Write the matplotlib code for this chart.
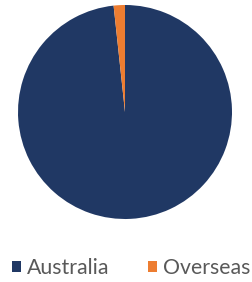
import matplotlib

matplotlib.use("Agg")

import matplotlib.pyplot as plt
from matplotlib.patches import Patch

labels = ["Australia", "Overseas"]
shares = [98.3, 1.7]
colours = ["#203864", "#ED7D31"]

fig = plt.figure(figsize=(2.52, 2.82), dpi=100)
ax = fig.add_axes([18 / 252, 1 - 219 / 282, 214 / 252, 214 / 282])

ax.pie(
    shares,
    colors=colours,
    startangle=90,
    counterclock=False,
    wedgeprops={"linewidth": 0},
)
ax.set_xlim(-1, 1)
ax.set_ylim(-1, 1)
ax.set_aspect("equal")

handles = [Patch(facecolor=c, edgecolor="none") for c in colours]
fig.legend(
    handles,
    labels,
    loc="center",
    bbox_to_anchor=(131.5 / 252, 1 - 268 / 282),
    ncol=2,
    frameon=False,
    borderpad=0,
    borderaxespad=0,
    handlelength=0.42,
    handleheight=0.45,
    handletextpad=0.3,
    columnspacing=1.8,
    prop={"family": "Lato", "size": 15.3},
    labelcolor="#595959",
)

fig.savefig("out.png", dpi=100)
